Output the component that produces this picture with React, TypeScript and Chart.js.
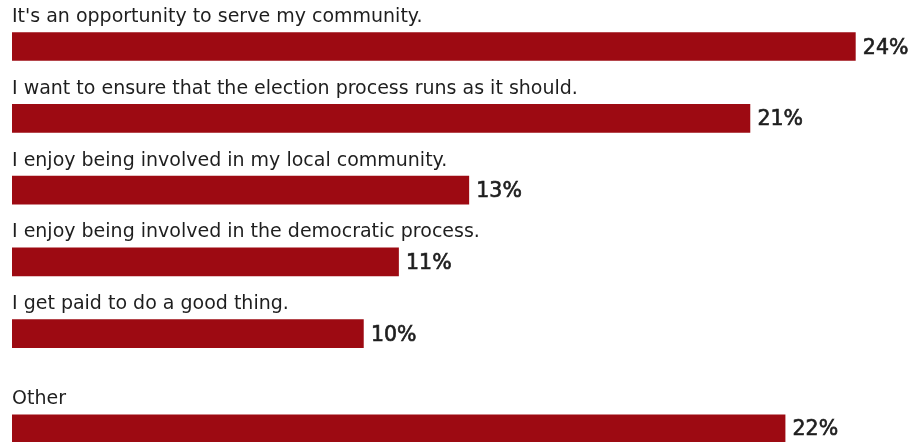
import React, { useEffect, useRef } from "react";
import { Chart, registerables } from "chart.js";

Chart.register(...registerables);

const mainCategories = [
  "It's an opportunity to serve my community.",
  "I want to ensure that the election process runs as it should.",
  "I enjoy being involved in my local community.",
  "I enjoy being involved in the democratic process.",
  "I get paid to do a good thing.",
];
const mainValues = [24, 21, 13, 11, 10];
const otherCategories = ["Other"];
const otherValues = [22];
const valueSuffix = "%";

const BAR_COLOR = "#9d0a12";
const TEXT_COLOR = "#1e1e1e";
const LABEL_FONT = "400 19px 'DejaVu Sans'";
const VALUE_FONT = "400 20.5px 'DejaVu Sans'";

const rowLabelPlugin = {
  id: "rowLabels",
  afterDatasetsDraw(chart: any) {
    const ctx = chart.ctx;
    const meta = chart.getDatasetMeta(0);
    const labels = chart.data.labels as string[];
    const values = chart.data.datasets[0].data as number[];
    ctx.save();
    ctx.fillStyle = TEXT_COLOR;
    ctx.strokeStyle = TEXT_COLOR;
    ctx.textAlign = "left";
    meta.data.forEach((bar: any, i: number) => {
      const p = bar.getProps(["x", "y", "base", "height"], true);
      const top = p.y - p.height / 2;
      ctx.font = LABEL_FONT;
      ctx.textBaseline = "alphabetic";
      ctx.fillText(labels[i], p.base, top - 10.5);
      ctx.font = VALUE_FONT;
      ctx.textBaseline = "alphabetic";
      ctx.lineWidth = 0.65;
      const txt = values[i] + valueSuffix;
      ctx.fillText(txt, p.x + 7.5, p.y + 7);
      ctx.strokeText(txt, p.x + 7.5, p.y + 7);
    });
    ctx.restore();
  },
};

function makeConfig(labels: string[], values: number[], padding: any): any {
  return {
    type: "bar",
    data: {
      labels,
      datasets: [
        {
          data: values,
          backgroundColor: BAR_COLOR,
          borderWidth: 0,
          barThickness: 28,
        },
      ],
    },
    options: {
      indexAxis: "y",
      animation: false,
      responsive: false,
      devicePixelRatio: 1,
      layout: { padding },
      scales: {
        x: { min: 0, max: 25, display: false },
        y: { display: false },
      },
      plugins: {
        legend: { display: false },
        tooltip: { enabled: false },
      },
      events: [],
    },
    plugins: [rowLabelPlugin],
  };
}

export default function App() {
  const mainRef = useRef<HTMLCanvasElement>(null);
  const otherRef = useRef<HTMLCanvasElement>(null);

  useEffect(() => {
    document.body.style.margin = "0";
    const c1 = new Chart(
      mainRef.current!,
      makeConfig(mainCategories, mainValues, { left: 12, right: 28.5, top: 10.6, bottom: 0.4 })
    );
    const c2 = new Chart(
      otherRef.current!,
      makeConfig(otherCategories, otherValues, { left: 12, right: 28.5, top: 44.6, bottom: 0 })
    );
    return () => {
      c1.destroy();
      c2.destroy();
    };
  }, []);

  return (
    <div style={{ width: 919, height: 442, background: "#fff" }}>
      <canvas ref={mainRef} width={919} height={370} style={{ display: "block" }} />
      <canvas ref={otherRef} width={919} height={72} style={{ display: "block" }} />
    </div>
  );
}
